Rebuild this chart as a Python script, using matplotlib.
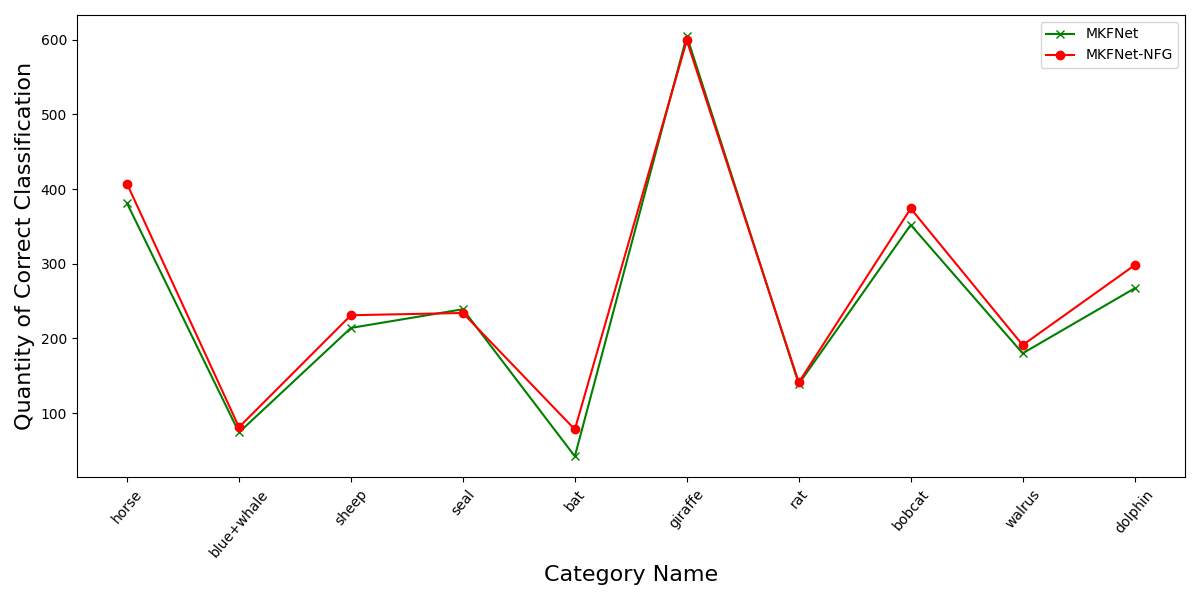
import matplotlib
matplotlib.use('Agg')
import matplotlib.pyplot as plt

categories = ['horse', 'blue+whale', 'sheep', 'seal', 'bat', 'giraffe', 'rat', 'bobcat', 'walrus', 'dolphin']
mkfnet = [381, 74, 214, 239, 42, 605, 139, 352, 180, 267]
mkfnet_nfg = [407, 81, 231, 234, 78, 599, 141, 374, 191, 298]

fig, ax = plt.subplots(figsize=(12, 6), dpi=100)
ax.plot(categories, mkfnet, color='green', marker='x', label='MKFNet')
ax.plot(categories, mkfnet_nfg, color='red', marker='o', label='MKFNet-NFG')
ax.set_xlabel('Category Name', fontsize=16)
ax.set_ylabel('Quantity of Correct Classification', fontsize=16)
plt.xticks(rotation=50)
ax.legend(loc='upper right')
plt.tight_layout()
plt.savefig('out.png')
